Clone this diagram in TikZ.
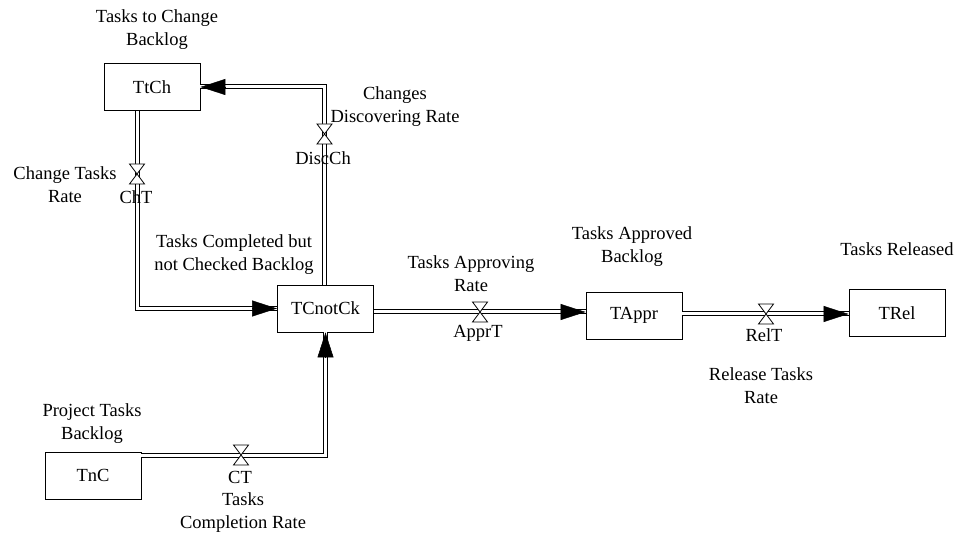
\documentclass[tikz,border=0pt]{standalone}
\usepackage{fontspec}
\setmainfont{Liberation Serif}
\usetikzlibrary{arrows.meta}
\begin{document}
\begin{tikzpicture}[x=1pt,y=-1pt,
  every node/.style={font=\fontsize{18.5}{23}\selectfont},
  stock/.style={draw, line width=0.9pt, minimum width=96pt, minimum height=47pt, inner sep=0pt},
  lbl/.style={align=center, inner sep=0pt},
  pipe/.style={draw, double=white, double distance=3pt, line width=1pt},
  tip/.style={line width=0.5pt, -{Triangle[length=25pt,width=16pt]}},
  valvebox/.style={minimum width=15pt, minimum height=20pt, inner sep=0pt, outer sep=0pt},
  valveshape/.style={fill=white, draw, line width=0.8pt, line join=miter}]
\useasboundingbox (0,0) rectangle (964,537);
\fill[white] (0,0) rectangle (964,537);

% stocks
\node[stock] (TtCh) at (152,87) {TtCh};
\node[stock] (TCnotCk) at (325.5,308.5) {TCnotCk};
\node[stock] (TAppr) at (634,315.5) {TAppr};
\node[stock] (TRel) at (897,313) {TRel};
\node[stock] (TnC) at (93,475.5) {TnC};

% valves (positions)
\node[valvebox] (vChT) at (137,174) {};
\node[valvebox] (vDisc) at (324.5,134) {};
\node[valvebox] (vAppr) at (480,312) {};
\node[valvebox] (vRel) at (766,314) {};
\node[valvebox] (vCT) at (241,455) {};

% pipes
\draw[pipe] (vChT |- TtCh.south) |- (TCnotCk.west);
\draw[pipe] (vDisc |- TCnotCk.north) |- (TtCh.east);
\draw[pipe] (TCnotCk.east |- vAppr) -- (TAppr.west |- vAppr);
\draw[pipe] (TAppr.east |- vRel) -- (TRel.west |- vRel);
\draw[pipe] (TnC.east |- vCT) -| (TCnotCk.south);

% arrowheads
\draw[tip] ([xshift=-25pt]TCnotCk.west) -- (TCnotCk.west);
\draw[tip] ([xshift=25pt]TtCh.east) -- (TtCh.east);
\draw[tip] ([xshift=-25pt]TAppr.west |- vAppr) -- (TAppr.west |- vAppr);
\draw[tip] ([xshift=-25pt]TRel.west |- vRel) -- (TRel.west |- vRel);
\draw[tip] ([yshift=-25pt]TCnotCk.south) -- (TCnotCk.south);

% valve shapes
\foreach \v in {vChT,vDisc,vAppr,vRel,vCT}{
  \draw[valveshape] (\v.north west) -- (\v.north east) -- (\v.south west) -- (\v.south east) -- cycle;
}

% valve labels
\node[lbl] (lChT) at (136,197) {ChT};
\node[lbl] (lDisc) at (323,158) {DiscCh};
\node[lbl] (lAppr) at (478,333) {ApprT};
\node[lbl] (lRel) at (764,335) {RelT};
\node[lbl] (lCT) at (240,477) {CT};

% descriptive labels
\node[lbl] (dTtCh) at (157,30) {Tasks to Change\\Backlog};
\node[lbl] (dDisc) at (395,107) {Changes\\Discovering Rate};
\node[lbl] (dChT) at (65,185) {Change Tasks\\Rate};
\node[lbl] (dTC) at (234,255) {Tasks Completed but\\not Checked Backlog};
\node[lbl] (dAppr) at (471,274) {Tasks Approving\\Rate};
\node[lbl] (dTAppr) at (632,247) {Tasks Approved\\Backlog};
\node[lbl] (dTRel) at (897,249) {Tasks Released};
\node[lbl] (dRel) at (761,386) {Release Tasks\\Rate};
\node[lbl] (dTnC) at (92,424) {Project Tasks\\Backlog};
\node[lbl] (dCT) at (243,513) {Tasks\\Completion Rate};
\end{tikzpicture}
\end{document}
